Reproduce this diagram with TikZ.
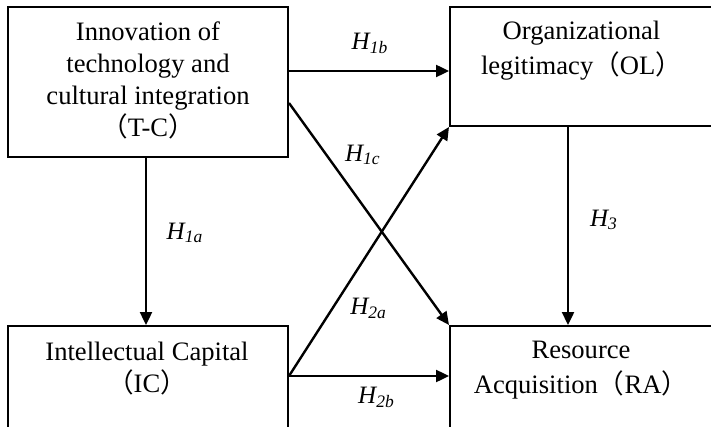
\documentclass[tikz,border=0pt]{standalone}
\usepackage{fontspec}
\setmainfont{Liberation Serif}
\newfontfamily\cjk{Noto Sans CJK SC}
\usetikzlibrary{arrows.meta}
\newcommand{\zlp}{{\cjk （}}
\newcommand{\zrp}{{\cjk ）}}
\newcommand{\hyp}[1]{\textit{H\textsubscript{#1}}}
\tikzset{
x=0.5pt, y=-0.5pt, % one unit is one pixel of the sketch
box/.style={draw, line width=1pt, minimum width=140pt, minimum height=75pt, inner sep=0pt}, % the boxes
boxtext/.style={align=center, inner sep=0pt, font=\fontsize{13.3}{16}\selectfont},
lbl/.style={inner sep=0pt, font=\fontsize{12.5}{15}\selectfont},
arr/.style={-{Triangle[length=6.5pt,width=6pt]}, line width=1.2pt},
}
\begin{document}
\begin{tikzpicture}
	\useasboundingbox (0,0) rectangle (711,427);
	\clip (0,0) rectangle (711,427);
	% boxes
	\node[box] (tc) at (148,82) {};
	\node[box, minimum width=131.5pt, minimum height=59.5pt] (ol) at (581.5,66.5) {};
	\node[box] (ic) at (148,401) {};
	\node[box, minimum width=131.5pt] (ra) at (581.5,401) {};
	% texts in the boxes
	\node[boxtext] (tc-text) at (148,80.5) {Innovation of\\technology and\\cultural integration\\\zlp T-C\zrp};
	\node[boxtext, font=\fontsize{13.3}{17.5}\selectfont] (ol-text) at (581.5,51) {Organizational\\legitimacy\zlp OL\zrp};
	\node[boxtext] (ic-text) at (147,369) {Intellectual Capital\\\zlp IC\zrp};
	\node[boxtext, font=\fontsize{13.3}{17.5}\selectfont] (ra-text) at (581,370.5) {Resource\\Acquisition\zlp RA\zrp};
	% hypotheses
	\draw[arr] ([yshift=5.5pt]tc.east) -- node[lbl, shift={(1,-28)}] {\hyp{1b}} ([yshift=-2.25pt]ol.west);
	\draw[arr] ([yshift=-10.5pt]tc.east) -- node[lbl, pos=0.23, shift={(37,1)}] {\hyp{1c}} (ra.north west);
	\draw[arr] ([xshift=-1pt]tc.south) -- node[lbl, shift={(39,-8.5)}] {\hyp{1a}} ([xshift=-1pt]ic.north);
	\draw[arr] ([yshift=12.5pt]ic.east) -- node[lbl, pos=0.272, shift={(36,0)}] {\hyp{2a}} (ol.south west);
	\draw[arr] ([yshift=12.5pt]ic.east) -- node[lbl, shift={(7.5,21)}] {\hyp{2b}} ([yshift=12.5pt]ra.west);
	\draw[arr] ([xshift=-6.75pt]ol.south) -- node[lbl, shift={(36,-6)}] {\hyp{3}} ([xshift=-6.75pt]ra.north);
\end{tikzpicture}
\end{document}
